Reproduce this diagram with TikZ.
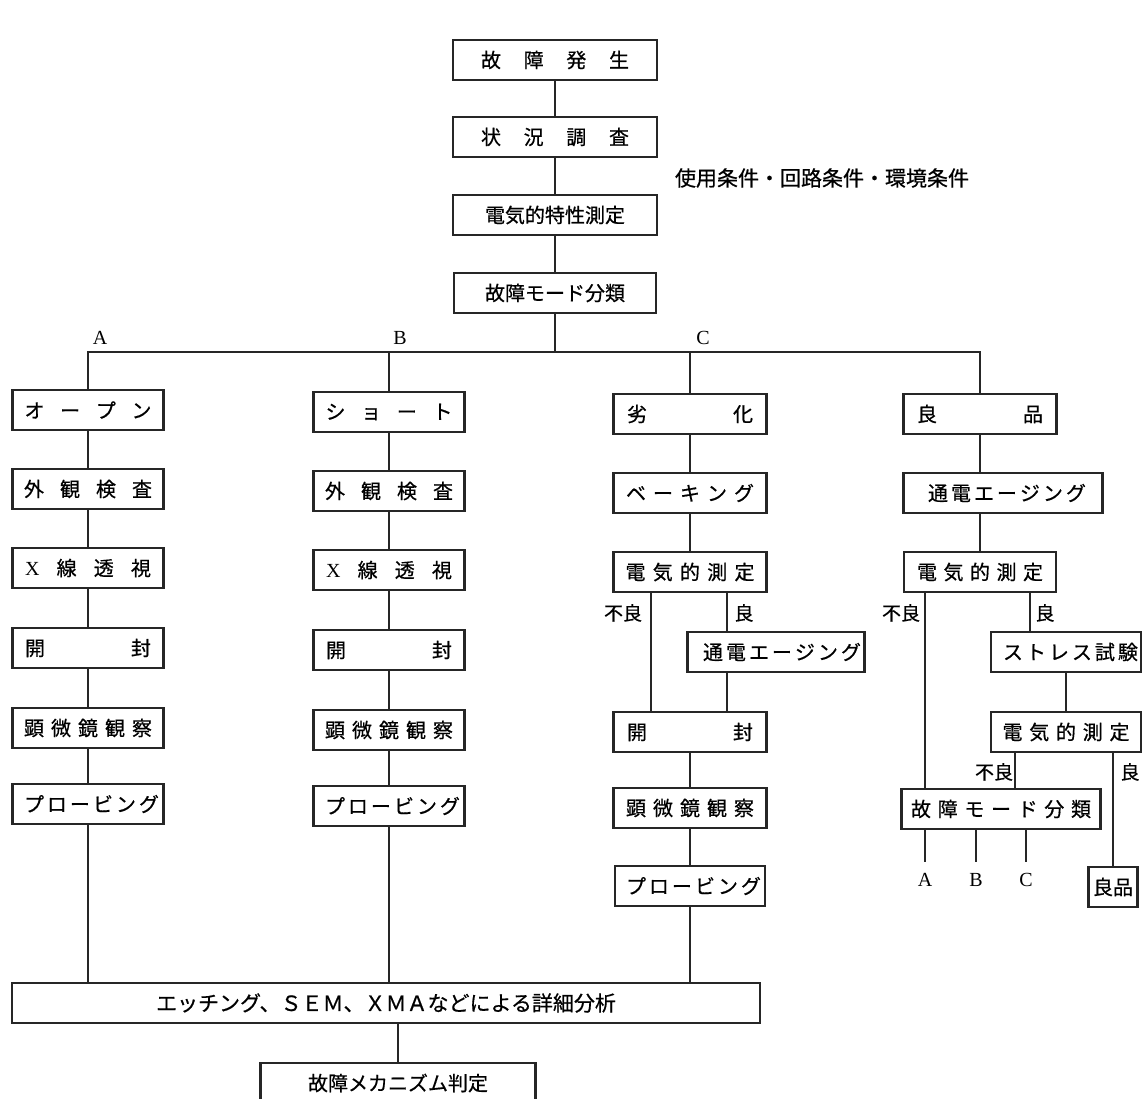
\documentclass[tikz,border=0pt]{standalone}
\usepackage{fontspec}
\usetikzlibrary{calc}
\newfontfamily\jpfont[FakeBold=0.6]{Noto Sans CJK JP}
\newfontfamily\abcfont{Liberation Serif}
\newcommand{\spread}[2]{\makebox[#1pt][s]{#2}}
\tikzset{
  stepbox/.style={draw=black!85,line width=2.2pt,minimum height=40pt,inner sep=0pt,
    font=\jpfont\fontsize{20}{24}\selectfont},
  link/.style={draw=black!85,line width=2.2pt},
  tag/.style={inner sep=0pt,font=\jpfont\fontsize{19}{22}\selectfont},
  abctag/.style={inner sep=0pt,font=\abcfont\fontsize{20}{24}\selectfont},
}

\begin{document}
\begin{tikzpicture}[x=1pt,y=-1pt]
  \useasboundingbox (0,0) rectangle (1145,1098);
  % main trunk
  \node[stepbox,minimum width=204] (fail) at (555,60) {\spread{148}{故 障 発 生}};
  \node[stepbox,minimum width=204] (survey) at (555,137) {\spread{148}{状 況 調 査}};
  \node[stepbox,minimum width=204] (elec) at (555,215) {電気的特性測定};
  \node[stepbox,minimum width=202] (mode) at (555,293) {故障モード分類};
  \node[inner sep=0pt,font=\jpfont\fontsize{21}{24}\selectfont] (cond) at (822,178) {使用条件・回路条件・環境条件};
  \foreach \a/\b in {fail/survey,survey/elec,elec/mode}
    {\draw[link] (\a) -- (\b);}
  \coordinate (split) at (555,352);
  \node[abctag] (tagA) at (100,338) {A};
  \node[abctag] (tagB) at (400,338) {B};
  \node[abctag] (tagC) at (703,338) {C};

  % columns A and B
  \foreach \col/\x/\dy/\head in {A/88/0/{オ ー プ ン},B/389/2/{シ ョ ー ト}} {
    \node[stepbox,minimum width=151] (head\col) at (\x,410+\dy) {\spread{127}{\head}};
    \node[stepbox,minimum width=151] (look\col) at (\x,489+\dy) {\spread{128}{外 観 検 査}};
    \node[stepbox,minimum width=151] (xray\col) at (\x,568+\dy) {\spread{126}{{\abcfont X} 線 透 視}};
    \node[stepbox,minimum width=151] (unseal\col) at (\x,648+\dy) {\spread{126}{開 封}};
    \node[stepbox,minimum width=151] (micro\col) at (\x,728+\dy) {\spread{128}{顕 微 鏡 観 察}};
    \node[stepbox,minimum width=151] (probe\col) at (\x,804+\dy) {\spread{128}{プ ロ ー ビ ン グ}};
    \foreach \a/\b in {head/look,look/xray,xray/unseal,unseal/micro,micro/probe}
      {\draw[link] (\a\col) -- (\b\col);}
  }

  % column C
  \node[stepbox,minimum width=153] (worn) at (690,414) {\spread{126}{劣 化}};
  \node[stepbox,minimum width=153] (bake) at (690,493) {\spread{128}{ベ ー キ ン グ}};
  \node[stepbox,minimum width=153] (measC) at (690,572) {\spread{129}{電 気 的 測 定}};
  \node[stepbox,minimum width=177] (ageC) at (776,652) {\spread{146}{通 電 エ ー ジ ン グ}};
  \node[stepbox,minimum width=153] (unsealC) at (690,732) {\spread{126}{開 封}};
  \node[stepbox,minimum width=153] (microC) at (690,808) {\spread{128}{顕 微 鏡 観 察}};
  \node[stepbox,minimum width=150] (probeC) at (690,886) {\spread{128}{プ ロ ー ビ ン グ}};
  \node[tag] (badC) at (623,613) {不良};
  \node[tag] (okC) at (744,613) {良};
  \draw[link] (worn) -- (bake);
  \draw[link] (bake) -- (measC);
  \draw[link] ([xshift=-39pt]measC.south) -- ([xshift=-39pt]unsealC.north);
  \draw[link] ([xshift=37pt]measC.south) -- ([xshift=37pt]measC.south |- ageC.north);
  \draw[link] ([xshift=37pt]unsealC.north |- ageC.south) -- ([xshift=37pt]unsealC.north);
  \draw[link] (unsealC) -- (microC);
  \draw[link] (microC) -- (probeC);

  % column of good parts
  \node[stepbox,minimum width=153] (good) at (980,414) {\spread{126}{良 品}};
  \node[stepbox,minimum width=199] (ageD) at (1003,493) {\spread{150}{通 電 エ ー ジ ン グ}};
  \node[stepbox,minimum width=152] (measD) at (980,572) {\spread{126}{電 気 的 測 定}};
  \node[stepbox,minimum width=150] (stress) at (1066,652) {\spread{126}{ス ト レ ス 試 験}};
  \node[stepbox,minimum width=150] (measE) at (1066,732) {\spread{127}{電 気 的 測 定}};
  \node[stepbox,minimum width=199] (modeD) at (1001,809) {\spread{180}{故 障 モ ー ド 分 類}};
  \node[stepbox,minimum width=49] (okbox) at (1113,887) {良品};
  \node[tag] (badD) at (901,613) {不良};
  \node[tag] (okD) at (1045,613) {良};
  \node[tag] (badE) at (994,772) {不良};
  \node[tag] (okE) at (1130,772) {良};
  \draw[link] (good.south) -- (good.south |- ageD.north);
  \draw[link] (good.south |- ageD.south) -- (measD.north);
  \draw[link] ([xshift=-55pt]measD.south) -- ([xshift=-55pt]measD.south |- modeD.north);
  \draw[link] ([xshift=50pt]measD.south) -- ([xshift=50pt]measD.south |- stress.north);
  \draw[link] (stress) -- (measE);
  \draw[link] ([xshift=-51pt]measE.south) -- ([xshift=-51pt]measE.south |- modeD.north);
  \draw[link] ([xshift=47pt]measE.south) -- (okbox.north);
  \foreach \n/\x in {A/925,B/976,C/1026} {
    \node[abctag,anchor=north] (back\n) at (\x,873) {\n};
    \draw[link] (modeD.south -| back\n) -- ([yshift=11pt]back\n.north);
  }

  % branch line
  \draw[link] (mode) -- (split);
  \draw[link] (headA.north) -- (headA.north |- split) -- (good.north |- split) -- (good.north);
  \draw[link] (headB.north |- split) -- (headB.north);
  \draw[link] (worn.north |- split) -- (worn.north);

  % detail analysis
  \node[stepbox,minimum width=748,font=\jpfont\fontsize{21}{24}\selectfont] (detail) at (386,1003)
    {エッチング、ＳＥＭ、ＸＭＡなどによる詳細分析};
  \node[stepbox,minimum width=275] (mech) at (398,1083) {故障メカニズム判定};
  \foreach \p in {probeA,probeB,probeC}
    {\draw[link] (\p.south) -- (\p.south |- detail.north);}
  \draw[link] (mech.north |- detail.south) -- (mech.north);
\end{tikzpicture}
\end{document}
